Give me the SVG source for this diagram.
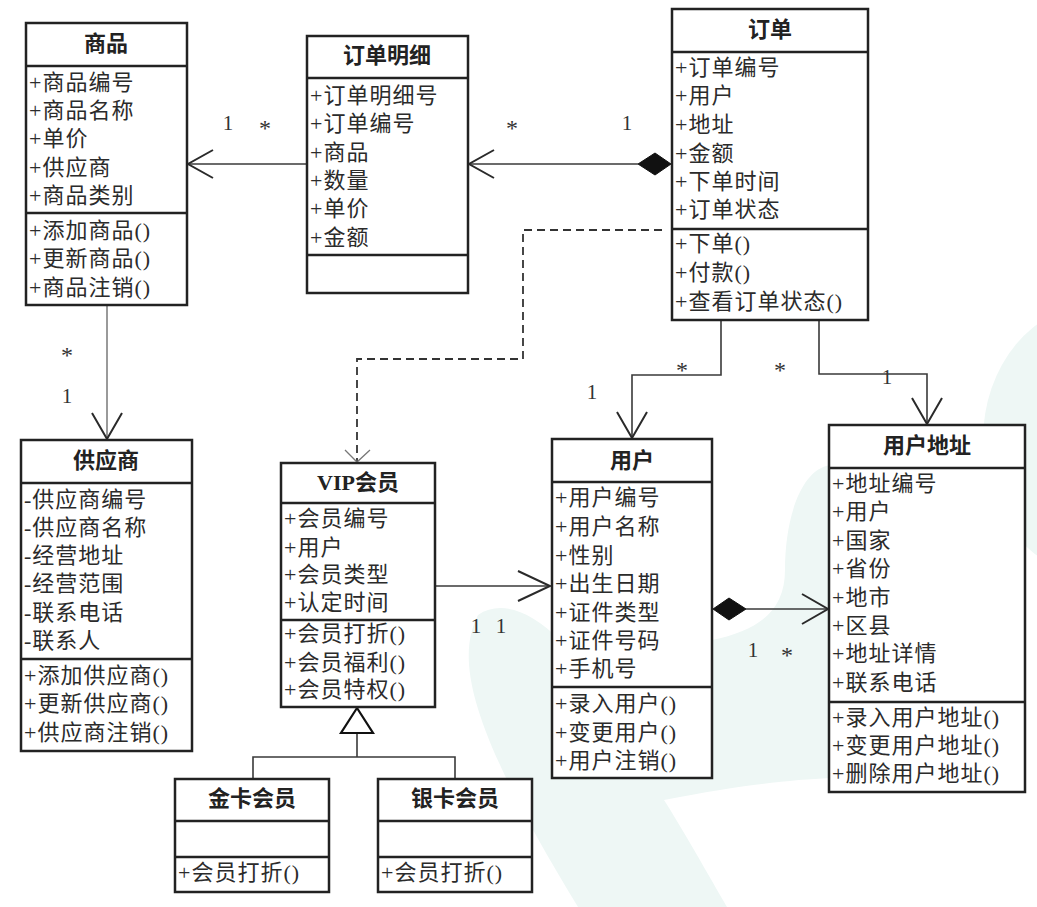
<svg xmlns="http://www.w3.org/2000/svg" width="1037" height="907" viewBox="0 0 1037 907">
<defs>
<style>
.bg{fill:#eef7f5;stroke:none}
.box{fill:#fff;stroke:#222;stroke-width:2.5}
.dv{stroke:#222;stroke-width:2.5;fill:none}
.t{font-family:"Liberation Serif","Noto Sans CJK SC",serif;font-size:22px;fill:#2b2b2b;letter-spacing:1px}
.ti{font-family:"Liberation Serif","Noto Sans CJK SC",serif;font-size:22px;font-weight:bold;fill:#222;text-anchor:middle}
.lbl{font-family:"Liberation Serif","Noto Sans CJK SC",serif;font-size:21px;fill:#333;text-anchor:middle}
.st{font-family:"Liberation Serif","Noto Sans CJK SC",serif;font-size:24px;fill:#333;text-anchor:middle}
.ln{stroke:#3a3a3a;stroke-width:1.6;fill:none}
.lg{stroke:#9a9a9a;stroke-width:2;fill:none}
.ah{stroke:#2a2a2a;stroke-width:2;fill:none}
.dash{stroke:#333;stroke-width:1.8;fill:none;stroke-dasharray:8 5}
.dm{fill:#111;stroke:#111;stroke-width:1}
</style>
</defs>
<rect x="0" y="0" width="1037" height="907" fill="#fff"/>
<g id="background">
<ellipse class="bg" cx="1095" cy="440" rx="112" ry="135"/>
<path class="bg" d="M 478 615 C 455 660 470 730 578 907 L 727 907 C 700 860 680 825 664 800 C 740 785 790 780 830 778 L 830 465 C 800 470 785 520 785 570 C 785 610 760 630 712 640 L 560 640 C 530 610 500 600 478 615 Z"/>
</g>
<g id="connectors">
<line class="ln" x1="307" y1="164" x2="188" y2="164"/>
<polyline class="ah" points="213,150 188,164 213,178"/>
<line class="ln" x1="638" y1="164" x2="469" y2="164"/>
<polyline class="ah" points="494,150 469,164 494,178"/>
<polygon class="dm" points="671,164 655,153 638,164 655,175"/>
<line class="lg" x1="107" y1="306" x2="107" y2="439"/>
<polyline class="ah" points="92,413 107,439 122,413"/>
<path class="dash" d="M 662 230 H 523 V 359 H 357 V 462"/>
<polyline points="345,450 357,462 370,450" fill="none" stroke="#777" stroke-width="1.3"/>
<line class="ln" x1="435" y1="586" x2="550" y2="586"/>
<polyline class="ah" points="518,571 550,586 518,601"/>
<path class="ln" d="M 721 320 V 375 H 632 V 438"/>
<polyline class="ah" points="617,412 632,438 647,412"/>
<path class="ln" d="M 819 320 V 374 H 927 V 424"/>
<polyline class="ah" points="912,398 927,424 942,398"/>
<line class="ln" x1="746" y1="609" x2="828" y2="609"/>
<polyline class="ah" points="802,594 828,609 802,624"/>
<polygon class="dm" points="713,609 729,598 746,609 729,620"/>
<path class="ln" d="M 357 733 V 757 M 253 779 V 757 H 455 V 779"/>
<polygon points="357,708 341,733 373,733" fill="#fff" stroke="#111" stroke-width="2.2"/>
<text class="lbl" x="228" y="130">1</text>
<text class="st" x="265" y="136">*</text>
<text class="st" x="512" y="136">*</text>
<text class="lbl" x="627" y="130">1</text>
<text class="st" x="67" y="363">*</text>
<text class="lbl" x="67" y="403">1</text>
<text class="st" x="682" y="378">*</text>
<text class="lbl" x="592" y="399">1</text>
<text class="st" x="780" y="378">*</text>
<text class="lbl" x="887" y="384">1</text>
<text class="lbl" x="476" y="633">1</text>
<text class="lbl" x="501" y="633">1</text>
<text class="lbl" x="753" y="657">1</text>
<text class="st" x="787" y="663">*</text>
</g>
<g id="node-shangpin">
<rect class="box" x="26" y="23" width="161" height="282"/>
<line class="dv" x1="26" y1="66" x2="187" y2="66"/>
<line class="dv" x1="26" y1="213" x2="187" y2="213"/>
<text class="ti" x="106" y="51">商品</text>
<text class="t" x="29" y="90">+商品编号</text>
<text class="t" x="29" y="118">+商品名称</text>
<text class="t" x="29" y="146">+单价</text>
<text class="t" x="29" y="175">+供应商</text>
<text class="t" x="29" y="203">+商品类别</text>
<text class="t" x="29" y="238">+添加商品()</text>
<text class="t" x="29" y="266">+更新商品()</text>
<text class="t" x="29" y="295">+商品注销()</text>
</g>
<g id="node-dingdanmingxi">
<rect class="box" x="307" y="36" width="161" height="257"/>
<line class="dv" x1="307" y1="78" x2="468" y2="78"/>
<line class="dv" x1="307" y1="255" x2="468" y2="255"/>
<text class="ti" x="387" y="63">订单明细</text>
<text class="t" x="310" y="103">+订单明细号</text>
<text class="t" x="310" y="131">+订单编号</text>
<text class="t" x="310" y="160">+商品</text>
<text class="t" x="310" y="188">+数量</text>
<text class="t" x="310" y="216">+单价</text>
<text class="t" x="310" y="245">+金额</text>
</g>
<g id="node-dingdan">
<rect class="box" x="672" y="9" width="196" height="311"/>
<line class="dv" x1="672" y1="52" x2="868" y2="52"/>
<line class="dv" x1="672" y1="229" x2="868" y2="229"/>
<text class="ti" x="770" y="37">订单</text>
<text class="t" x="675" y="75">+订单编号</text>
<text class="t" x="675" y="103">+用户</text>
<text class="t" x="675" y="132">+地址</text>
<text class="t" x="675" y="161">+金额</text>
<text class="t" x="675" y="189">+下单时间</text>
<text class="t" x="675" y="217">+订单状态</text>
<text class="t" x="675" y="251">+下单()</text>
<text class="t" x="675" y="280">+付款()</text>
<text class="t" x="675" y="309">+查看订单状态()</text>
</g>
<g id="node-gongyingshang">
<rect class="box" x="21" y="440" width="171" height="311"/>
<line class="dv" x1="21" y1="483" x2="192" y2="483"/>
<line class="dv" x1="21" y1="659" x2="192" y2="659"/>
<text class="ti" x="106" y="468">供应商</text>
<text class="t" x="24" y="507">-供应商编号</text>
<text class="t" x="24" y="535">-供应商名称</text>
<text class="t" x="24" y="563">-经营地址</text>
<text class="t" x="24" y="591">-经营范围</text>
<text class="t" x="24" y="620">-联系电话</text>
<text class="t" x="24" y="648">-联系人</text>
<text class="t" x="24" y="683">+添加供应商()</text>
<text class="t" x="24" y="711">+更新供应商()</text>
<text class="t" x="24" y="740">+供应商注销()</text>
</g>
<g id="node-vip">
<rect class="box" x="281" y="463" width="154" height="244"/>
<line class="dv" x1="281" y1="503" x2="435" y2="503"/>
<line class="dv" x1="281" y1="620" x2="435" y2="620"/>
<text class="ti" x="358" y="490">VIP会员</text>
<text class="t" x="284" y="526">+会员编号</text>
<text class="t" x="284" y="555">+用户</text>
<text class="t" x="284" y="582">+会员类型</text>
<text class="t" x="284" y="610">+认定时间</text>
<text class="t" x="284" y="641">+会员打折()</text>
<text class="t" x="284" y="670">+会员福利()</text>
<text class="t" x="284" y="697">+会员特权()</text>
</g>
<g id="node-yonghu">
<rect class="box" x="552" y="439" width="160" height="339"/>
<line class="dv" x1="552" y1="482" x2="712" y2="482"/>
<line class="dv" x1="552" y1="687" x2="712" y2="687"/>
<text class="ti" x="632" y="468">用户</text>
<text class="t" x="555" y="505">+用户编号</text>
<text class="t" x="555" y="534">+用户名称</text>
<text class="t" x="555" y="563">+性别</text>
<text class="t" x="555" y="591">+出生日期</text>
<text class="t" x="555" y="620">+证件类型</text>
<text class="t" x="555" y="648">+证件号码</text>
<text class="t" x="555" y="676">+手机号</text>
<text class="t" x="555" y="711">+录入用户()</text>
<text class="t" x="555" y="740">+变更用户()</text>
<text class="t" x="555" y="768">+用户注销()</text>
</g>
<g id="node-yonghudizhi">
<rect class="box" x="829" y="425" width="196" height="367"/>
<line class="dv" x1="829" y1="468" x2="1025" y2="468"/>
<line class="dv" x1="829" y1="702" x2="1025" y2="702"/>
<text class="ti" x="927" y="453">用户地址</text>
<text class="t" x="832" y="491">+地址编号</text>
<text class="t" x="832" y="519">+用户</text>
<text class="t" x="832" y="548">+国家</text>
<text class="t" x="832" y="576">+省份</text>
<text class="t" x="832" y="605">+地市</text>
<text class="t" x="832" y="633">+区县</text>
<text class="t" x="832" y="661">+地址详情</text>
<text class="t" x="832" y="690">+联系电话</text>
<text class="t" x="832" y="725">+录入用户地址()</text>
<text class="t" x="832" y="753">+变更用户地址()</text>
<text class="t" x="832" y="781">+删除用户地址()</text>
</g>
<g id="node-jinka">
<rect class="box" x="175" y="779" width="154" height="113"/>
<line class="dv" x1="175" y1="821" x2="329" y2="821"/>
<line class="dv" x1="175" y1="857" x2="329" y2="857"/>
<text class="ti" x="252" y="806">金卡会员</text>
<text class="t" x="178" y="880">+会员打折()</text>
</g>
<g id="node-yinka">
<rect class="box" x="378" y="779" width="154" height="113"/>
<line class="dv" x1="378" y1="821" x2="532" y2="821"/>
<line class="dv" x1="378" y1="857" x2="532" y2="857"/>
<text class="ti" x="455" y="806">银卡会员</text>
<text class="t" x="381" y="880">+会员打折()</text>
</g>
</svg>
